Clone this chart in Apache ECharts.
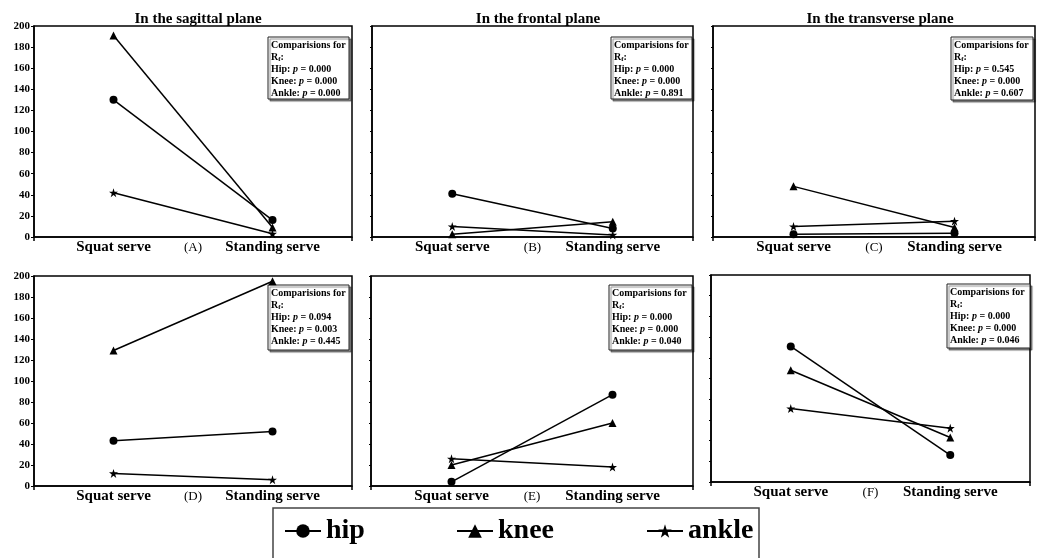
<!DOCTYPE html>
<html>
<head>
<meta charset="utf-8">
<script src="https://cdn.jsdelivr.net/npm/echarts@6/dist/echarts.min.js"></script>
<style>
  html, body { margin: 0; padding: 0; background: #fff; }
  #chart { width: 1044px; height: 558px; }
</style>
</head>
<body>
<div id="chart"></div>
<script>
// data
const categories = ['Squat serve', 'Standing serve'];
const panelLetters = ['(A)', '(B)', '(C)', '(D)', '(E)', '(F)'];
const planeTitles = ['In the sagittal plane', 'In the frontal plane', 'In the transverse plane'];
const jointNames = ['hip', 'knee', 'ankle'];
// one [squat, standing] pair per panel A..F
const hipValues = [[130, 16], [41, 8], [2.5, 3.5], [43, 52], [4, 87], [131, 26]];
const kneeValues = [[191, 9], [2.5, 14.5], [48, 9], [129, 195], [20, 60], [108, 43]];
const ankleValues = [[42, 3], [10, 2], [10, 15], [12, 6], [26, 18], [71, 52]];
const pHip = ['0.000', '0.000', '0.545', '0.094', '0.000', '0.000'];
const pKnee = ['0.000', '0.000', '0.000', '0.003', '0.000', '0.000'];
const pAnkle = ['0.000', '0.891', '0.607', '0.445', '0.040', '0.046'];
const yMin = 0, yMax = 200, yStep = 20;

const FONT = "'Liberation Serif', 'Times New Roman', serif";
const STAR = 'path://M10 0 L12.245 6.91 L19.51 6.91 L13.63 11.18 L15.88 18.09 L10 13.82 L4.12 18.09 L6.37 11.18 L0.49 6.91 L7.755 6.91 Z';
const symbols = { hip: 'circle', knee: 'triangle', ankle: STAR };
const valuesByJoint = { hip: hipValues, knee: kneeValues, ankle: ankleValues };

const grids = [
  { left: 34, top: 26, width: 318, height: 211 },
  { left: 372, top: 26, width: 321, height: 211 },
  { left: 713, top: 26, width: 322, height: 211 },
  { left: 34, top: 276, width: 318, height: 210 },
  { left: 371, top: 276, width: 322, height: 210 },
  { left: 711, top: 275, width: 319, height: 207 }
];
const boxes = [
  [268, 37, 81, 62], [611, 37, 81, 62], [951, 37, 82, 63],
  [268, 285, 81, 65], [609, 285, 83, 65], [947, 284, 83, 64]
];
const titleX = [198, 538, 880];

const chart = echarts.init(document.getElementById('chart'));

const xAxes = grids.map((g, i) => ({
  type: 'category',
  gridIndex: i,
  data: categories,
  boundaryGap: true,
  axisLine: { lineStyle: { color: '#000', width: 1.5 } },
  axisTick: { show: true, length: 4, interval: idx => idx === 1, lineStyle: { color: '#000', width: 1.5 } },
  axisLabel: { fontFamily: FONT, fontSize: 15, fontWeight: 'bold', color: '#000', margin: 3, interval: 0 },
  splitLine: { show: false }
}));

const yAxes = grids.map((g, i) => ({
  type: 'value',
  gridIndex: i,
  min: yMin, max: yMax, interval: yStep,
  axisLine: { show: true, lineStyle: { color: '#000', width: 1.5 } },
  axisTick: { show: true, length: i % 3 === 0 ? 3 : 2, lineStyle: { color: '#000' } },
  axisLabel: { show: i % 3 === 0, fontFamily: FONT, fontSize: 11, fontWeight: 'bold', color: '#000', margin: 4 },
  splitLine: { show: false }
}));

const series = [];
grids.forEach((g, i) => {
  jointNames.forEach(name => {
    series.push({
      name: name,
      type: 'line',
      xAxisIndex: i,
      yAxisIndex: i,
      data: valuesByJoint[name][i],
      symbol: symbols[name],
      symbolSize: name === 'ankle' ? 9 : 8,
      showSymbol: true,
      lineStyle: { color: '#000', width: 1.5 },
      itemStyle: { color: '#000' },
      emphasis: { disabled: true },
      z: 3
    });
  });
});

const richText = {
  b: { fontFamily: FONT, fontSize: 10, fontWeight: 'bold', color: '#000', lineHeight: 12 },
  i: { fontFamily: FONT, fontSize: 10, fontWeight: 'bold', fontStyle: 'italic', color: '#000', lineHeight: 12 },
  s: { fontFamily: FONT, fontSize: 7, fontWeight: 'bold', color: '#000', lineHeight: 12, verticalAlign: 'bottom' }
};

const graphics = boxes.map((b, i) => ({
  type: 'group',
  x: b[0], y: b[1],
  z: 10,
  children: [
    {
      type: 'rect',
      shape: { x: 0, y: 0, width: b[2], height: b[3] },
      style: { fill: '#fff', stroke: '#222', lineWidth: 1, shadowBlur: 1, shadowOffsetX: 2, shadowOffsetY: 2, shadowColor: 'rgba(0,0,0,0.45)' }
    },
    {
      type: 'text',
      x: 3, y: 2,
      style: {
        text: '{b|Comparisions for}\n{b|R}{s|f}{b|:}\n{b|Hip: }{i|p}{b| = ' + pHip[i] + '}\n{b|Knee: }{i|p}{b| = ' + pKnee[i] + '}\n{b|Ankle: }{i|p}{b| = ' + pAnkle[i] + '}',
        rich: richText
      }
    }
  ]
}));
// panel letters under the middle tick of each x axis
grids.forEach((g, i) => {
  graphics.push({
    type: 'text',
    x: g.left + g.width / 2,
    y: g.top + g.height + 4,
    z: 10,
    style: { text: panelLetters[i], fontFamily: FONT, fontSize: 13, fill: '#000', align: 'center', verticalAlign: 'top' }
  });
});
graphics.push({
  type: 'rect',
  shape: { x: 273, y: 508, width: 486, height: 60 },
  style: { fill: 'none', stroke: '#444', lineWidth: 1.5 },
  z: 10
});

const legendBase = {
  orient: 'horizontal',
  top: 517,
  padding: 0,
  itemWidth: 36,
  itemHeight: 17,
  selectedMode: false,
  lineStyle: { width: 2 },
  textStyle: { fontFamily: FONT, fontSize: 28, fontWeight: 'bold', color: '#000' }
};

chart.setOption({
  animation: false,
  backgroundColor: '#fff',
  title: planeTitles.map((t, i) => ({
    text: t,
    left: titleX[i],
    top: 12,
    textAlign: 'center',
    padding: 0,
    textStyle: { fontFamily: FONT, fontSize: 15, fontWeight: 'bold', color: '#000' }
  })),
  legend: [
    Object.assign({}, legendBase, { data: ['hip'], left: 284 }),
    Object.assign({}, legendBase, { data: ['knee'], left: 456 }),
    Object.assign({}, legendBase, { data: ['ankle'], left: 646 })
  ],
  grid: grids.map(g => Object.assign({ show: true, borderColor: '#000', borderWidth: 1.5, backgroundColor: '#fff', containLabel: false }, g)),
  xAxis: xAxes,
  yAxis: yAxes,
  series: series,
  graphic: graphics
});
</script>
</body>
</html>
